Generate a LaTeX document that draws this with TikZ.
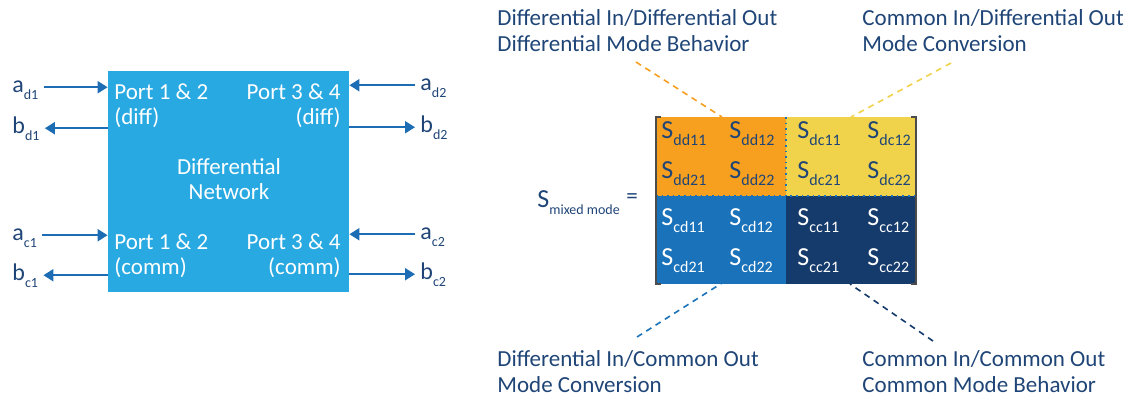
\documentclass[tikz,border=0pt]{standalone}
\usepackage{fontspec}
\setmainfont{Carlito}
\usetikzlibrary{arrows.meta}

\definecolor{netblue}{HTML}{29A9E1}
\definecolor{sigblue}{HTML}{1C6DB4}
\definecolor{inkblue}{HTML}{1F4577}
\definecolor{ddorange}{HTML}{F7A01F}
\definecolor{dcyellow}{HTML}{F1D24B}
\definecolor{cdblue}{HTML}{1A73BA}
\definecolor{ccnavy}{HTML}{153B6C}

% lowered index and S-parameter term
\newcommand{\lowsub}[2][7]{\raisebox{-3.5pt}{\fontsize{#1}{#1}\selectfont #2}}
\newcommand{\sterm}[1]{{\fontsize{13}{13}\selectfont S}\lowsub[8]{#1}}

\begin{document}
\begin{tikzpicture}[x=0.5pt, y=-0.5pt,
    txt/.style={font=\fontsize{11.5}{13}\selectfont, text=inkblue, inner sep=0},
    port/.style={font=\fontsize{11.5}{12.5}\selectfont, text=white, inner sep=0},
    wave/.style={font=\fontsize{12}{12}\selectfont, text=inkblue, inner xsep=2.5pt, inner ysep=0, anchor=base west},
    sig/.style={-{Triangle[length=5pt, width=6pt]}, line width=1pt, draw=sigblue},
    entry/.style={anchor=base west, inner sep=0},
    lead/.style={dash pattern=on 3pt off 2.5pt, line width=0.8pt}
]
\useasboundingbox (0,0) rectangle (1138,403);

% network block
\node[fill=netblue, minimum width=120.5pt, minimum height=110.5pt, inner sep=0] (net) at (228.5,181.5) {};
\node[port, align=center] (core) at (229,179) {Differential\\Network};
\node[port, align=left, anchor=west] (p12d) at (114,105.5) {Port 1 \& 2\\(diff)};
\node[port, align=right, anchor=east] (p34d) at (341,105.5) {Port 3 \& 4\\(diff)};
\node[port, align=left, anchor=west] (p12c) at (114,255.5) {Port 1 \& 2\\(comm)};
\node[port, align=right, anchor=east] (p34c) at (341,255.5) {Port 3 \& 4\\(comm)};

% incident and reflected waves
\node[wave] (ad1) at (7,92) {a\lowsub{d1}};
\node[wave] (bd1) at (7,133) {b\lowsub{d1}};
\node[wave] (ac1) at (7,240) {a\lowsub{c1}};
\node[wave] (bc1) at (7,280) {b\lowsub{c1}};
\node[wave] (ad2) at (415,90) {a\lowsub{d2}};
\node[wave] (bd2) at (415,132) {b\lowsub{d2}};
\node[wave] (ac2) at (415,239) {a\lowsub{c2}};
\node[wave] (bc2) at (415,279) {b\lowsub{c2}};

\draw[sig] (ad1.mid east) -- (ad1.mid east -| net.west);
\draw[sig] (bd1.mid east -| net.west) -- (bd1.mid east);
\draw[sig] (ac1.mid east) -- (ac1.mid east -| net.west);
\draw[sig] (bc1.mid east -| net.west) -- (bc1.mid east);
\draw[sig] (ad2.mid west) -- (ad2.mid west -| net.east);
\draw[sig] (bd2.mid west -| net.east) -- (bd2.mid west);
\draw[sig] (ac2.mid west) -- (ac2.mid west -| net.east);
\draw[sig] (bc2.mid west -| net.east) -- (bc2.mid west);

% notes around the matrix
\node[txt, align=left, anchor=west] (ddnote) at (497,31) {Differential In/Differential Out\\Differential Mode Behavior};
\node[txt, align=left, anchor=west] (dcnote) at (862,31) {Common In/Differential Out\\Mode Conversion};
\node[txt, align=left, anchor=west] (cdnote) at (497,372) {Differential In/Common Out\\Mode Conversion};
\node[txt, align=left, anchor=west] (ccnote) at (862,372) {Common In/Common Out\\Common Mode Behavior};

\coordinate (ddfoot) at (636,62);
\coordinate (ddhead) at (722,117);
\coordinate (dcfoot) at (951,63);
\coordinate (dchead) at (851,117);
\coordinate (cdfoot) at (637,337);
\coordinate (cdhead) at (722,283);
\coordinate (ccfoot) at (933,341);
\coordinate (cchead) at (850,284);
\draw[lead, ddorange] (ddfoot) -- (ddhead);
\draw[lead, dcyellow] (dcfoot) -- (dchead);
\draw[lead, cdblue] (cdfoot) -- (cdhead);
\draw[lead, ccnavy] (ccfoot) -- (cchead);

% mixed mode matrix
\fill[ddorange] (656,117) rectangle (786,196);
\fill[dcyellow] (786,117) rectangle (916,196);
\fill[cdblue] (656,196) rectangle (786,284);
\fill[ccnavy] (786,196) rectangle (916,284);
\draw[cdblue, dotted, line width=0.8pt] (786,117) -- (786,196);
\draw[cdblue, dotted, line width=0.8pt] (656,196) -- (916,196);
\draw[black!70, line width=0.8pt] (661,117) -- (656,117) -- (656,284) -- (661,284);
\draw[black!70, line width=0.8pt] (911,117) -- (916,117) -- (916,284) -- (911,284);

\foreach \r/\y in {1/138, 2/178} {
  \foreach \c/\x in {1/661, 2/729} \node[entry, text=inkblue] (dd\r\c) at (\x,\y) {\sterm{dd\r\c}};
  \foreach \c/\x in {1/797, 2/867} \node[entry, text=inkblue] (dc\r\c) at (\x,\y) {\sterm{dc\r\c}};
}
\foreach \r/\y in {1/225, 2/265} {
  \foreach \c/\x in {1/661, 2/729} \node[entry, text=white] (cd\r\c) at (\x,\y) {\sterm{cd\r\c}};
  \foreach \c/\x in {1/797, 2/867} \node[entry, text=white] (cc\r\c) at (\x,\y) {\sterm{cc\r\c}};
}

\node[entry, text=inkblue] (smm) at (537,207) {{\fontsize{13}{13}\selectfont S}\lowsub{mixed mode}};
\node[txt, anchor=west] (eq) at (626,199) {=};
\end{tikzpicture}
\end{document}
